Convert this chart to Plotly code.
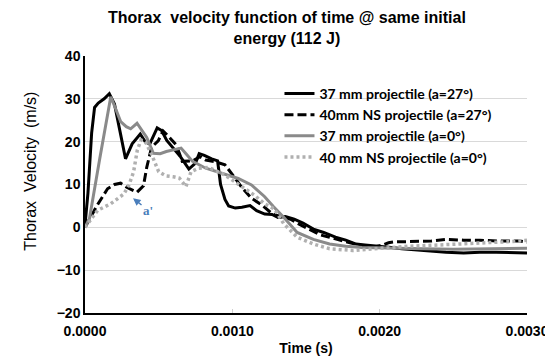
import plotly.graph_objects as go

# Time (s) and thorax velocity (m/s)
t_37_27 = [0, 0.00002, 0.000045, 0.000065, 0.00009, 0.00013, 0.000165, 0.0002, 0.00024, 0.000275,
           0.00032, 0.000375, 0.00041, 0.00044, 0.00049, 0.00052, 0.000555, 0.0006, 0.00065, 0.000705,
           0.00075, 0.000775, 0.00081, 0.00086, 0.0009, 0.00092, 0.00095, 0.000975, 0.00102, 0.001065,
           0.00112, 0.001165, 0.00122, 0.00127, 0.00131, 0.00136, 0.00142, 0.00148, 0.00155, 0.00162,
           0.0017, 0.00177, 0.00184, 0.0019, 0.00197, 0.00203, 0.00208, 0.00215, 0.00225, 0.00235,
           0.00245, 0.00257, 0.00268, 0.00279, 0.0029, 0.003]
v_37_27 = [0.5, 8, 22, 28, 29, 30, 31.2, 28.8, 22, 16,
           19.5, 21.8, 19.9, 19.5, 23.2, 22.6, 20.3, 18.5, 16.4, 13.6,
           15, 17.2, 16.8, 16, 15.5, 10, 6.5, 5.0, 4.5, 4.7,
           5.1, 3.9, 3.1, 3, 2.3, 2.5, 1.9, 1, -0.4, -1.2,
           -2.3, -3, -3.9, -4.1, -4.3, -4.5, -4.7, -5, -5.3, -5.6,
           -5.8, -6, -5.8, -5.8, -5.9, -6]

t_40_27 = [0, 0.00004, 0.000087, 0.000153, 0.0002, 0.000242, 0.000286, 0.000353, 0.000397, 0.000419,
           0.000452, 0.000497, 0.00053, 0.00056, 0.0006, 0.00062, 0.00066, 0.00073, 0.00078, 0.00082,
           0.000885, 0.00095, 0.00102, 0.00106, 0.00113, 0.00117, 0.0012, 0.001273, 0.00133, 0.001395,
           0.00145, 0.00152, 0.0016, 0.00166, 0.00175, 0.00188, 0.00197, 0.002016, 0.00206, 0.0021,
           0.00224, 0.00235, 0.00246, 0.00257, 0.00268, 0.0028, 0.00295, 0.003]
v_40_27 = [0, 2.5, 5.4, 9, 10, 10.3, 9.3, 8.2, 9.7, 14,
           18.7, 20.2, 22.5, 21.5, 20, 19.2, 15.4, 15.5, 16.5, 15.7,
           15.3, 14.6, 11.4, 9.5, 6.8, 5.8, 5.2, 3.1, 2.5, 1.9,
           0.8, -0.5, -1.8, -2.3, -3.2, -4.3, -4.5, -4.2, -3.6, -3.4,
           -3.2, -3.2, -2.8, -3.0, -3.0, -3.2, -3.2, -3.5]

t_37_0 = [0, 0.00003, 0.0001, 0.000175, 0.00021, 0.000242, 0.00028, 0.00031, 0.000353, 0.00038,
          0.000419, 0.000464, 0.00051, 0.000552, 0.0006, 0.000652, 0.00069, 0.00073, 0.00082, 0.00093,
          0.00104, 0.00113, 0.001218, 0.00128, 0.00135, 0.00144, 0.00155, 0.00166, 0.00177, 0.00188,
          0.002, 0.00215, 0.0023, 0.0025, 0.0027, 0.0029, 0.003]
v_37_0 = [0, 2, 16, 30.5, 27.5, 24.7, 23.5, 23, 24.3, 23,
          21, 17.3, 17.2, 17.7, 18, 18.5, 17, 15.4, 13.8, 12.6,
          11.4, 9.9, 7.2, 4.8, 2.3, -1.2, -2.8, -3.9, -4.4, -4.7,
          -4.8, -5, -5, -5.1, -5.0, -4.9, -4.9]

t_40_0 = [0, 0.00004, 0.000087, 0.000175, 0.000264, 0.0003, 0.00033, 0.000355, 0.00038, 0.00041,
          0.000452, 0.0005, 0.00055, 0.0006, 0.00064, 0.000685, 0.00072, 0.00077, 0.00084, 0.00095,
          0.00106, 0.00115, 0.001218, 0.001284, 0.00135, 0.00144, 0.00155, 0.00166, 0.001816, 0.00195,
          0.00206, 0.0022, 0.00235, 0.0025, 0.00265, 0.0028, 0.0029, 0.003]
v_40_0 = [0, 2, 4, 5.5, 7.8, 10, 13, 18, 20.4, 20,
          17, 13, 12, 11.8, 11.5, 9.5, 13, 13.8, 14, 12.2,
          9.5, 7.5, 5.5, 4.3, 0.8, -2.3, -3.9, -5, -5.4, -5,
          -4.7, -4.4, -4.2, -4, -3.8, -3.5, -3.3, -3]

names = ["37 mm projectile (a=27°)", "40mm NS projectile (a=27°)",
         "37 mm projectile (a=0°)", "40 mm NS projectile (a=0°)"]

x_ticks = [0, 0.001, 0.002, 0.003]
y_ticks = [-20, -10, 0, 10, 20, 30, 40]

fig = go.Figure()
fig.add_trace(go.Scatter(x=t_37_27, y=v_37_27, mode="lines", name=names[0],
                         line=dict(color="#000000", width=3)))
fig.add_trace(go.Scatter(x=t_40_27, y=v_40_27, mode="lines", name=names[1],
                         line=dict(color="#000000", width=3, dash="9px,4px")))
fig.add_trace(go.Scatter(x=t_37_0, y=v_37_0, mode="lines", name=names[2],
                         line=dict(color="#8a8a8a", width=3)))
fig.add_trace(go.Scatter(x=t_40_0, y=v_40_0, mode="lines", name=names[3],
                         line=dict(color="#b0b0b0", width=3.5, dash="3px,3px")))

tickfont = dict(family="Liberation Sans, Arial", size=14, color="#000000", weight="bold")

fig.update_layout(
    width=553, height=358,
    margin=dict(l=77, r=25, t=48, b=53),
    paper_bgcolor="white", plot_bgcolor="white",
    showlegend=True,
    legend=dict(x=0.44, y=0.915, xanchor="left", yanchor="top",
                bgcolor="rgba(0,0,0,0)", borderwidth=0,
                font=dict(family="Lato, Open Sans", size=14, color="#000000", weight="bold"),
                itemwidth=30, tracegroupgap=0),
    xaxis=dict(range=[0, 0.003], tickvals=x_ticks, tickformat=".4f",
               showgrid=False, zeroline=False, showline=True, linecolor="#000000", linewidth=1.5,
               ticks="inside", ticklen=4, tickcolor="#d0d0d0", tickfont=tickfont,
               ticklabelstandoff=4,
               title=dict(text="Time (s)", standoff=6,
                          font=dict(family="Liberation Sans, Arial", size=14, color="#000000", weight="bold"))),
    yaxis=dict(range=[-20, 40], tickvals=y_ticks,
               showgrid=True, gridcolor="#d9d9d9", gridwidth=1, zeroline=False,
               showline=True, linecolor="#000000", linewidth=1.5, ticks="", tickfont=tickfont),
)

fig.add_annotation(text="<b>Thorax  velocity function of time @ same initial<br>energy (112 J)</b>",
                   xref="paper", yref="paper", x=0.457, y=1.0, yanchor="bottom", yshift=7,
                   showarrow=False,
                   font=dict(family="Liberation Sans, Arial", size=16, color="#000000"))
fig.add_annotation(text="Thorax  Velocity  (m/s)", textangle=-90,
                   xref="paper", yref="paper", x=-0.122, y=0.55, xanchor="center", yanchor="middle",
                   showarrow=False,
                   font=dict(family="Liberation Sans, Arial", size=16, color="#000000"))
fig.add_annotation(text="<b>a'</b>", x=0.000326, y=6.8, ax=15, ay=12,
                   showarrow=True, arrowhead=2, arrowsize=1, arrowwidth=1.5, arrowcolor="#4a7ebb",
                   standoff=0,
                   font=dict(family="Liberation Serif, DejaVu Serif", size=13, color="#4a7ebb"))

fig.write_html("out.html")
